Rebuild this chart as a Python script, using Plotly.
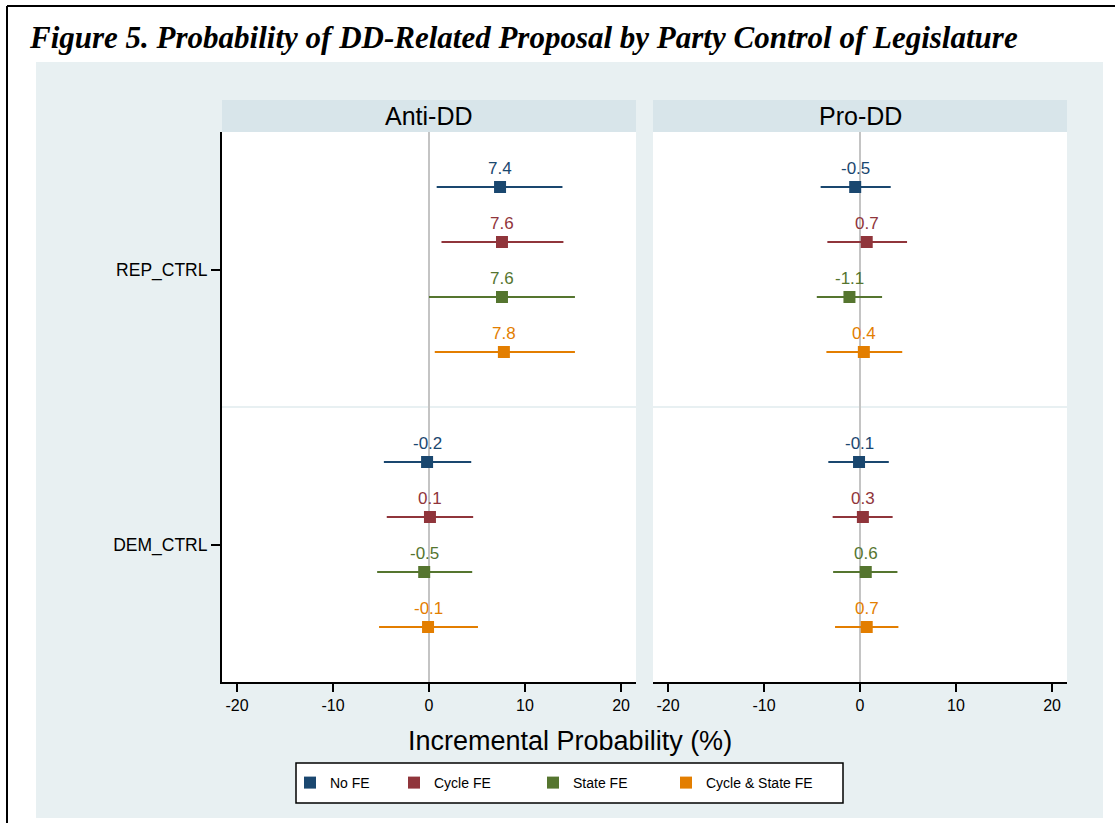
import plotly.graph_objects as go

W, H = 1115, 823

# Model specifications (series) and their colours
series = ["No FE", "Cycle FE", "State FE", "Cycle & State FE"]
colors = ["#1a476f", "#90353b", "#55752f", "#e37e00"]

groups = ["REP_CTRL", "DEM_CTRL"]
panels = ["Anti-DD", "Pro-DD"]

# Anti-DD estimates and 95% CI bounds
anti_rep = [7.4, 7.6, 7.6, 7.8]
anti_rep_lo = [0.8, 1.3, 0.0, 0.6]
anti_rep_hi = [13.9, 14.0, 15.2, 15.2]
anti_dem = [-0.2, 0.1, -0.5, -0.1]
anti_dem_lo = [-4.7, -4.4, -5.4, -5.2]
anti_dem_hi = [4.4, 4.6, 4.5, 5.1]

# Pro-DD estimates and 95% CI bounds
pro_rep = [-0.5, 0.7, -1.1, 0.4]
pro_rep_lo = [-4.1, -3.4, -4.5, -3.5]
pro_rep_hi = [3.2, 4.9, 2.3, 4.4]
pro_dem = [-0.1, 0.3, 0.6, 0.7]
pro_dem_lo = [-3.3, -2.85, -2.8, -2.6]
pro_dem_hi = [3.0, 3.4, 3.9, 4.0]

x_ticks = [-20, -10, 0, 10, 20]

panel_data = [
    [(anti_rep, anti_rep_lo, anti_rep_hi), (anti_dem, anti_dem_lo, anti_dem_hi)],
    [(pro_rep, pro_rep_lo, pro_rep_hi), (pro_dem, pro_dem_lo, pro_dem_hi)],
]

FONT = "Liberation Sans, Arial, sans-serif"
BG = "#e8f0f2"
STRIP = "#d8e5ea"


def px_x(p):
    return p / W


def px_y(p):
    return 1 - p / H


n_ser = len(series)
slot = n_ser + 1  # rows per group, including one blank row
y_top = slot * len(groups)


def ypos(g, i):
    return y_top - (g * slot + 1 + i)


legend_ids = ["legend", "legend2", "legend3", "legend4"]
legend_left_px = [290, 394, 533, 666]  # one legend box per series key

fig = go.Figure()
annotations = []

for p, pdata in enumerate(panel_data):
    xref = "x" if p == 0 else "x2"
    for i, name in enumerate(series):
        xs, ys, lo, hi = [], [], [], []
        for g, (est, l, h) in enumerate(pdata):
            xs.append(est[i])
            ys.append(ypos(g, i))
            lo.append(est[i] - l[i])
            hi.append(h[i] - est[i])
            annotations.append(dict(
                x=est[i], y=ypos(g, i), xref=xref, yref="y",
                text=f"{est[i]:.1f}", showarrow=False, yshift=19,
                font=dict(family=FONT, size=17, color=colors[i]),
            ))
        fig.add_trace(go.Scatter(
            x=xs, y=ys, xaxis=xref, yaxis="y", mode="markers",
            name=name, legendgroup=name, showlegend=(p == 0),
            legend=legend_ids[i],
            marker=dict(symbol="square", size=12, color=colors[i],
                        line=dict(width=0)),
            error_x=dict(type="data", symmetric=False, array=hi,
                         arrayminus=lo, color=colors[i], thickness=2,
                         width=0),
        ))

# panel geometry (pixels)
left_dom = (222, 636)
right_dom = (653, 1067)
plot_top, plot_bot = 132, 682
strip_top = 100

shapes = [
    # outer frame
    dict(type="line", xref="paper", yref="paper", x0=px_x(7), x1=px_x(7),
         y0=px_y(6), y1=0, line=dict(color="black", width=2)),
    dict(type="line", xref="paper", yref="paper", x0=px_x(7), x1=1,
         y0=px_y(6), y1=px_y(6), line=dict(color="black", width=2)),
    # graph region
    dict(type="rect", xref="paper", yref="paper", x0=px_x(36), x1=px_x(1103),
         y0=px_y(818), y1=px_y(62), fillcolor=BG, line=dict(width=0),
         layer="below"),
]

for (a, b), title, xref in zip([left_dom, right_dom], panels, ["x", "x2"]):
    # white plot region
    shapes.append(dict(type="rect", xref="paper", yref="paper",
                       x0=px_x(a), x1=px_x(b), y0=px_y(plot_bot),
                       y1=px_y(plot_top), fillcolor="white",
                       line=dict(width=0), layer="below"))
    # panel header strip
    shapes.append(dict(type="rect", xref="paper", yref="paper",
                       x0=px_x(a), x1=px_x(b), y0=px_y(plot_top),
                       y1=px_y(strip_top), fillcolor=STRIP,
                       line=dict(width=0), layer="below"))
    annotations.append(dict(x=px_x((a + b) / 2), y=px_y((plot_top + strip_top) / 2),
                            xref="paper", yref="paper", text=title,
                            showarrow=False, xanchor="center", yanchor="middle",
                            font=dict(family=FONT, size=25, color="black")))
    # divider between the two groups
    shapes.append(dict(type="line", xref=xref + " domain", yref="y",
                       x0=0, x1=1, y0=y_top - slot, y1=y_top - slot,
                       line=dict(color=BG, width=2), layer="below"))

# legend frame
shapes.append(dict(type="rect", xref="paper", yref="paper",
                   x0=px_x(296), x1=px_x(843), y0=px_y(803), y1=px_y(763),
                   fillcolor="white", line=dict(color="black", width=1.5),
                   layer="below"))

# title
annotations.append(dict(
    x=px_x(27), y=px_y(37), xref="paper", yref="paper",
    text="Figure 5. Probability of DD-Related Proposal by Party Control of Legislature",
    showarrow=False, xanchor="left", yanchor="middle",
    font=dict(family="Liberation Serif, serif", size=31, color="black",
              weight="bold", style="italic"),
))

# shared x-axis title
annotations.append(dict(
    x=px_x(570), y=px_y(741), xref="paper", yref="paper",
    text="Incremental Probability (%)", showarrow=False,
    xanchor="center", yanchor="middle",
    font=dict(family=FONT, size=27, color="black"),
))

xax = dict(
    range=[-21.56, 21.56], tickvals=x_ticks,
    ticktext=[str(t) for t in x_ticks],
    ticks="outside", ticklen=8, tickwidth=1.5, tickcolor="black",
    showline=True, linecolor="black", linewidth=2,
    showgrid=False, zeroline=True, zerolinecolor="#c4c4c4", zerolinewidth=2,
    tickfont=dict(family=FONT, size=16, color="black"),
    anchor="y", fixedrange=True,
)

legend_style = dict(
    orientation="h", xanchor="left", y=px_y(783), yanchor="middle",
    bgcolor="rgba(0,0,0,0)", borderwidth=0,
    font=dict(family=FONT, size=14, color="black"), itemwidth=30,
)
legends = {lid: dict(legend_style, x=px_x(lx))
           for lid, lx in zip(legend_ids, legend_left_px)}

fig.update_layout(
    width=W, height=H,
    margin=dict(l=0, r=0, t=0, b=0),
    paper_bgcolor="white", plot_bgcolor="rgba(0,0,0,0)",
    xaxis=dict(xax, domain=[px_x(left_dom[0]), px_x(left_dom[1])]),
    xaxis2=dict(xax, domain=[px_x(right_dom[0]), px_x(right_dom[1])]),
    yaxis=dict(
        range=[0, y_top], domain=[px_y(plot_bot), px_y(plot_top)],
        tickvals=[ypos(g, 0) - (n_ser - 1) / 2 for g in range(len(groups))],
        ticktext=groups, ticks="outside", ticklen=9, tickwidth=1.5,
        tickcolor="black", showline=True, linecolor="black", linewidth=2,
        showgrid=False, zeroline=False, anchor="x",
        tickfont=dict(family=FONT, size=17.5, color="black"),
        fixedrange=True,
    ),
    shapes=shapes,
    annotations=annotations,
    showlegend=True,
    **legends,
)

fig.write_html("out.html")
